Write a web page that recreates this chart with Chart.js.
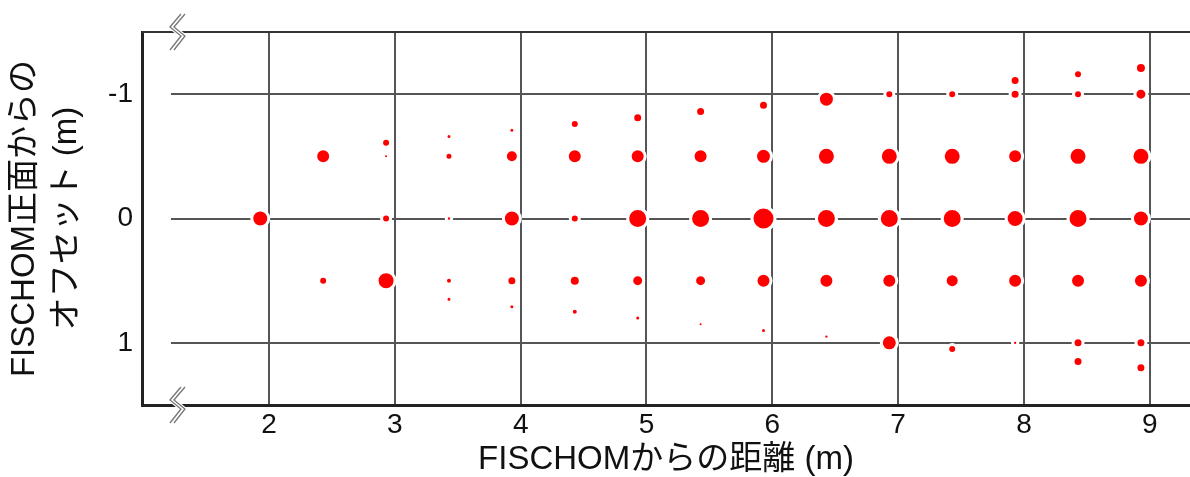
<!DOCTYPE html>
<html><head><meta charset="utf-8">
<script src="https://cdn.jsdelivr.net/npm/chart.js@4.4.1/dist/chart.umd.min.js"></script>
<style>html,body{margin:0;padding:0;background:#fff;}</style>
</head><body>
<canvas id="c" width="1190" height="477" style="display:block;width:1190px;height:477px"></canvas>
<script>
// ---- data ----
const xTickValues = [2, 3, 4, 5, 6, 7, 8, 9];
const yTickValues = [-1, 0, 1];
const xTitle = 'FISCHOMからの距離 (m)';
const yTitle = ['FISCHOM正面からの', 'オフセット (m)'];

const pointX = [
  1.93,
  2.43, 2.43,
  2.93, 2.93, 2.93, 2.93,
  3.43, 3.43, 3.43, 3.43, 3.43,
  3.93, 3.93, 3.93, 3.93, 3.93,
  4.43, 4.43, 4.43, 4.43, 4.43,
  4.93, 4.93, 4.93, 4.93, 4.93,
  5.43, 5.43, 5.43, 5.43, 5.43,
  5.93, 5.93, 5.93, 5.93, 5.93,
  6.43, 6.43, 6.43, 6.43, 6.43,
  6.93, 6.93, 6.93, 6.93, 6.93,
  7.43, 7.43, 7.43, 7.43, 7.43,
  7.93, 7.93, 7.93, 7.93, 7.93, 7.93,
  8.43, 8.43, 8.43, 8.43, 8.43, 8.43, 8.43,
  8.93, 8.93, 8.93, 8.93, 8.93, 8.93, 8.93
];
const pointY = [
  0,
  -0.5, 0.5,
  -0.61, -0.5, 0, 0.5,
  -0.66, -0.5, 0, 0.5, 0.65,
  -0.71, -0.5, 0, 0.5, 0.71,
  -0.76, -0.5, 0, 0.5, 0.75,
  -0.81, -0.5, 0, 0.5, 0.8,
  -0.86, -0.5, 0, 0.5, 0.85,
  -0.91, -0.5, 0, 0.5, 0.9,
  -0.96, -0.5, 0, 0.5, 0.95,
  -1, -0.5, 0, 0.5, 1,
  -1, -0.5, 0, 0.5, 1.05,
  -1.11, -1, -0.5, 0, 0.5, 1,
  -1.16, -1, -0.5, 0, 0.5, 1, 1.15,
  -1.21, -1, -0.5, 0, 0.5, 1, 1.2
];
const pointSize = [
  7,
  6, 3,
  3, 1, 3, 7.5,
  1.5, 2.5, 1.2, 2, 1.5,
  1.5, 5, 7, 3.5, 1.5,
  3, 6, 3, 4, 2,
  3.5, 6, 8.5, 4.5, 1.5,
  3.5, 6, 8.5, 4.5, 1,
  3.5, 6.5, 10, 6, 1.5,
  6.5, 7.5, 8.5, 6, 1.2,
  3, 7.5, 8.5, 6, 6.5,
  3, 7.5, 8.5, 5.5, 3,
  3.5, 3.5, 6, 7.5, 6, 1.2,
  3, 3, 7.5, 8.5, 6, 3.5, 3.5,
  4, 4.5, 7.5, 7, 6, 3.5, 3.5
];

// ---- chart ----
const FONT = "'Liberation Sans', 'Noto Sans CJK JP', Arial, sans-serif";
const HALO = 3;
const points = pointX.map((x, i) => ({ x: x, y: pointY[i], r: pointSize[i] + HALO / 2 }));

const framePlugin = {
  id: 'frame',
  beforeDatasetsDraw(chart) {
    const { ctx, chartArea: a, scales: { x, y } } = chart;
    ctx.save();
    ctx.strokeStyle = '#555';
    ctx.lineWidth = 2;
    const xs = x.getPixelForValue(1.22);
    yTickValues.forEach(v => {
      const py = Math.round(y.getPixelForValue(v));
      ctx.beginPath(); ctx.moveTo(xs, py); ctx.lineTo(a.right, py); ctx.stroke();
    });
    ctx.strokeStyle = '#333';
    ctx.lineWidth = 2;
    ctx.beginPath(); ctx.moveTo(a.left, a.top); ctx.lineTo(a.right, a.top); ctx.stroke();
    ctx.restore();
  },
  afterDraw(chart) {
    const { ctx, chartArea: a, scales: { x } } = chart;
    const cx = x.getPixelForValue(1.26);
    const shape = [[5, -18], [-6, -5], [5, 4], [-6, 18]];
    function mark(cy) {
      ctx.save();
      ctx.lineJoin = 'miter';
      ctx.strokeStyle = '#fff';
      ctx.lineWidth = 6;
      ctx.beginPath();
      shape.forEach((p, i) => { const px = cx + p[0] + 2, py = cy + p[1]; i ? ctx.lineTo(px, py) : ctx.moveTo(px, py); });
      ctx.stroke();
      ctx.strokeStyle = '#777';
      ctx.lineWidth = 1.3;
      [0, 4].forEach(off => {
        ctx.beginPath();
        shape.forEach((p, i) => { const px = cx + p[0] + off, py = cy + p[1]; i ? ctx.lineTo(px, py) : ctx.moveTo(px, py); });
        ctx.stroke();
      });
      ctx.restore();
    }
    mark(a.top);
    mark(a.bottom);
  }
};

new Chart(document.getElementById('c'), {
  type: 'bubble',
  data: {
    datasets: [{
      data: points,
      backgroundColor: '#ff0000',
      borderColor: '#ffffff',
      borderWidth: HALO,
      hoverBorderWidth: HALO
    }]
  },
  options: {
    responsive: false,
    animation: false,
    devicePixelRatio: 1,
    layout: { autoPadding: false, padding: { top: 32, right: 0, bottom: 0, left: 0 } },
    plugins: { legend: { display: false }, tooltip: { enabled: false } },
    events: [],
    scales: {
      x: {
        type: 'linear',
        min: 0.99,
        max: 9.32,
        afterBuildTicks: s => { s.ticks = xTickValues.map(v => ({ value: v })); },
        afterFit: s => { s.height = 72; s.paddingLeft = 0; s.paddingRight = 0; },
        grid: { color: '#555', lineWidth: 2, drawTicks: false },
        border: { display: true, color: '#222', width: 3 },
        ticks: { color: '#111', font: { family: FONT, size: 28 }, padding: 3, autoSkip: false, maxRotation: 0 },
        title: { display: true, text: xTitle, color: '#111', font: { family: FONT, size: 33, lineHeight: 1.05 }, padding: { top: 0, bottom: 0 } }
      },
      y: {
        type: 'linear',
        reverse: true,
        min: -1.5,
        max: 1.5,
        afterBuildTicks: s => { s.ticks = yTickValues.map(v => ({ value: v })); },
        afterFit: s => { s.width = 142; s.paddingTop = 0; s.paddingBottom = 0; },
        grid: { display: false, drawTicks: false },
        border: { display: true, color: '#222', width: 3 },
        ticks: { color: '#111', font: { family: FONT, size: 28 }, padding: 9 },
        title: { display: true, text: yTitle, color: '#111', font: { family: FONT, size: 33, lineHeight: 1.27 }, padding: { top: 4, bottom: 0 } }
      }
    }
  },
  plugins: [framePlugin]
});
</script>
</body></html>
